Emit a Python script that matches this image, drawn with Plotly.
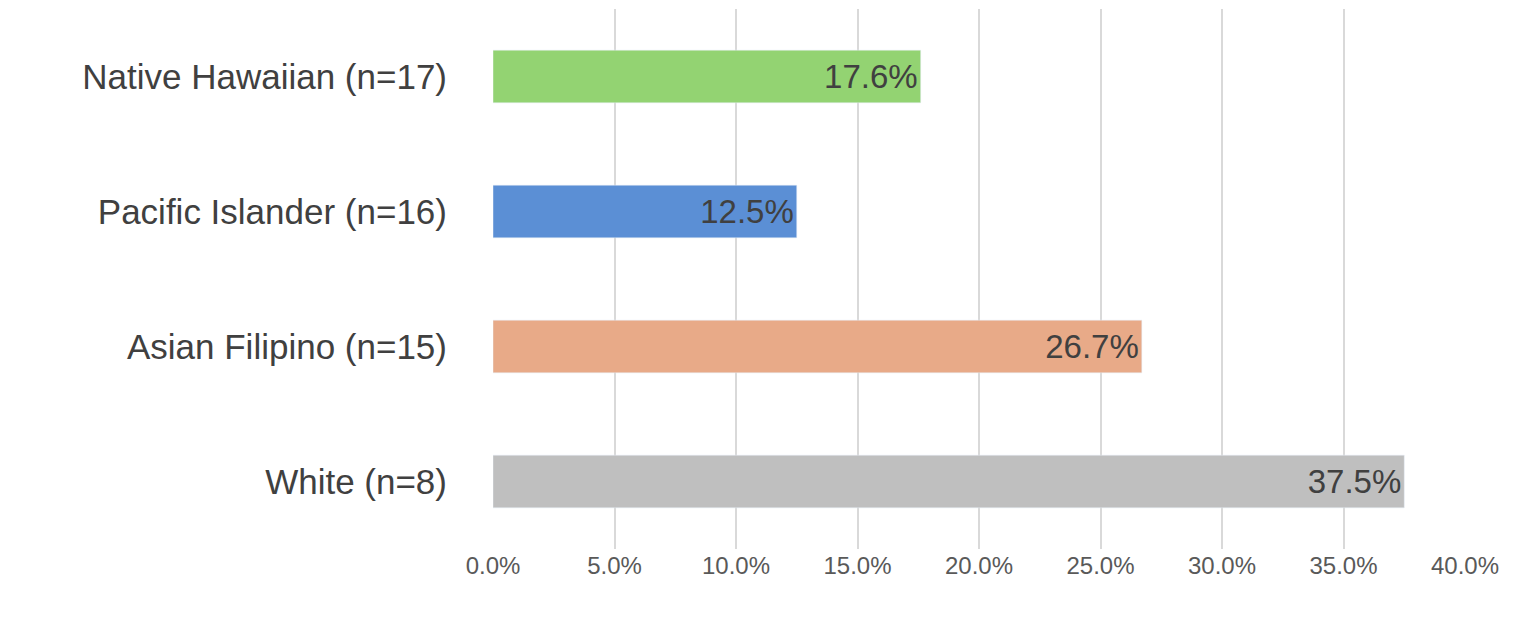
import plotly.graph_objects as go

categories = ["White (n=8)", "Asian Filipino (n=15)", "Pacific Islander (n=16)", "Native Hawaiian (n=17)"]
values = [37.5, 26.7, 12.5, 17.6]
labels = ["37.5%", "26.7%", "12.5%", "17.6%"]
colors = ["#BFBFBF", "#E8AA88", "#5B8FD5", "#93D372"]
tick_vals = [0, 5, 10, 15, 20, 25, 30, 35, 40]
tick_text = ["0.0%", "5.0%", "10.0%", "15.0%", "20.0%", "25.0%", "30.0%", "35.0%", "40.0%"]

fig = go.Figure(go.Bar(
    y=categories, x=values, orientation="h", marker_color=colors,
    text=labels, textposition="inside", insidetextanchor="end",
    textfont=dict(size=33, color="#404040", family="Liberation Sans"),
    constraintext="none",
))
fig.update_layout(
    width=1524, height=617, plot_bgcolor="white", paper_bgcolor="white",
    margin=dict(l=485, r=67, t=1, b=76), bargap=0.61, showlegend=False,
    font=dict(family="Liberation Sans"),
)
fig.update_xaxes(range=[0, 40], tickvals=tick_vals, ticktext=tick_text,
                 showgrid=True, gridcolor="#D9D9D9", gridwidth=1.5, zeroline=False,
                 tickfont=dict(size=24, color="#595959"), ticks="", ticklen=0)
fig.update_yaxes(tickfont=dict(size=35, color="#404040"), ticks="outside",
                 ticklen=38, tickcolor="white", showline=False)
fig.write_html("out.html")
